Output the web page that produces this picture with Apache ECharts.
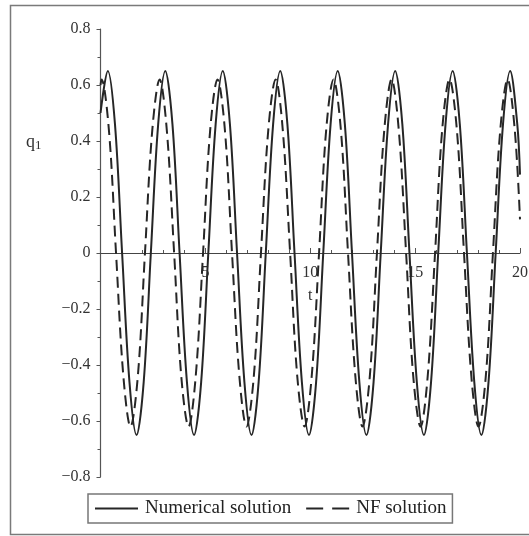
<!DOCTYPE html>
<html>
<head>
<meta charset="UTF-8">
<title>q1 - Numerical vs NF solution</title>
<script src="https://cdn.jsdelivr.net/npm/echarts@6/dist/echarts.min.js"></script>
<style>
    html, body { margin: 0; padding: 0; background: #fff; }
    #chart { width: 529px; height: 536px; }
</style>
</head>
<body>
<div id="chart"></div>
<script>
// values (t, q1)
var tNumerical = [0, 0.35, 0.69, 1.03, 1.38, 1.72, 2.06, 2.40, 2.75, 3.09, 3.43, 3.77, 4.12, 4.46, 4.80,
    5.14, 5.49, 5.83, 6.17, 6.51, 6.86, 7.20, 7.54, 7.88, 8.23, 8.57, 8.91, 9.25, 9.60, 9.94, 10.28,
    10.62, 10.97, 11.31, 11.65, 11.99, 12.34, 12.68, 13.02, 13.36, 13.71, 14.05, 14.39, 14.73, 15.08,
    15.42, 15.76, 16.10, 16.45, 16.79, 17.13, 17.47, 17.82, 18.16, 18.50, 18.84, 19.19, 19.53, 19.87, 20];
var qNumerical = [0.50, 0.65, 0.46, 0, -0.46, -0.65, -0.46, 0, 0.46, 0.65, 0.46, 0, -0.46, -0.65, -0.46,
    0, 0.46, 0.65, 0.46, 0, -0.46, -0.65, -0.46, 0, 0.46, 0.65, 0.46, 0, -0.46, -0.65, -0.46,
    0, 0.46, 0.65, 0.46, 0, -0.46, -0.65, -0.46, 0, 0.46, 0.65, 0.46, 0, -0.46,
    -0.65, -0.46, 0, 0.46, 0.65, 0.46, 0, -0.46, -0.65, -0.46, 0, 0.46, 0.65, 0.46, 0.28];

var tNF = [0, 0.05, 0.40, 0.74, 1.09, 1.43, 1.78, 2.12, 2.47, 2.82, 3.16, 3.51, 3.85, 4.20, 4.54,
    4.89, 5.23, 5.58, 5.93, 6.27, 6.62, 6.96, 7.31, 7.65, 8.00, 8.35, 8.69, 9.04, 9.38, 9.73, 10.07,
    10.42, 10.76, 11.11, 11.46, 11.80, 12.15, 12.49, 12.84, 13.18, 13.53, 13.88, 14.22, 14.57, 14.91,
    15.26, 15.60, 15.95, 16.29, 16.64, 16.99, 17.33, 17.68, 18.02, 18.37, 18.71, 19.06, 19.41, 19.75, 20];
var qNF = [0.60, 0.62, 0.44, 0, -0.44, -0.62, -0.44, 0, 0.44, 0.62, 0.44, 0, -0.44, -0.62, -0.44,
    0, 0.44, 0.62, 0.44, 0, -0.44, -0.62, -0.44, 0, 0.44, 0.62, 0.44, 0, -0.44, -0.62, -0.44,
    0, 0.44, 0.62, 0.44, 0, -0.44, -0.62, -0.44, 0, 0.44, 0.62, 0.44, 0, -0.44,
    -0.62, -0.44, 0, 0.44, 0.62, 0.44, 0, -0.44, -0.62, -0.44, 0, 0.44, 0.62, 0.44, 0.12];

var seriesNames = ['Numerical solution', 'NF solution'];
var xTicks = { min: 0, max: 20, interval: 5 };
var yTicks = { min: -0.8, max: 0.8, interval: 0.2 };

function pairs(xs, ys) {
    return xs.map(function (x, i) { return [x, ys[i]]; });
}

var font = '"Liberation Serif", "DejaVu Serif", serif';
var ink = '#262626';

// grid: top 29, bottom 477 -> the zero line sits half way
var gridTop = 29, gridBottom = 59, chartH = 536;
var zeroOffset = -((chartH - gridBottom) - (gridTop + (chartH - gridBottom - gridTop) / 2));

var myChart = echarts.init(document.getElementById('chart'));

myChart.setOption({
    animation: false,
    textStyle: { fontFamily: font },
    grid: { left: 100.5, right: 9, top: gridTop, bottom: gridBottom, containLabel: false, outerBoundsMode: 'none' },
    graphic: [
        {
            type: 'rect',
            shape: { x: 10.5, y: 5.5, width: 540, height: 529 },
            style: { fill: 'none', stroke: '#7a7a7a', lineWidth: 1.5 },
            silent: true
        },
        {
            type: 'text',
            left: 26, top: 133,
            style: {
                text: '{q|q}{s|1}',
                rich: {
                    q: { fontFamily: font, fontSize: 18, fill: '#333' },
                    s: { fontFamily: font, fontSize: 13, fill: '#333', verticalAlign: 'bottom', padding: [8, 0, 0, 0] }
                }
            }
        }
    ],
    legend: {
        left: 88, top: 494,
        itemWidth: 43, itemHeight: 10, itemGap: 14,
        padding: [5, 6, 5, 6],
        borderColor: '#777', borderWidth: 1.5,
        itemStyle: { opacity: 0 },
        textStyle: { fontFamily: font, fontSize: 19, color: '#222', padding: [0, 0, 0, 2] },
        data: [
            { name: seriesNames[0] },
            { name: seriesNames[1], lineStyle: { type: [17, 9] } }
        ]
    },
    xAxis: {
        type: 'value',
        min: xTicks.min, max: xTicks.max, interval: xTicks.interval,
        offset: zeroOffset,
        name: 't', nameLocation: 'middle', nameGap: 35,
        nameTextStyle: { fontFamily: font, fontSize: 16, color: '#333' },
        axisLine: { onZero: false, lineStyle: { color: '#444', width: 1.2 } },
        axisTick: { inside: true, length: 5, lineStyle: { color: '#555' } },
        minorTick: { show: true, splitNumber: 5, length: 3, lineStyle: { color: '#555' } },
        splitLine: { show: false },
        axisLabel: {
            showMinLabel: false, margin: 12,
            fontFamily: font, fontSize: 16, color: '#333'
        }
    },
    yAxis: {
        type: 'value',
        min: yTicks.min, max: yTicks.max, interval: yTicks.interval,
        axisLine: { show: true, lineStyle: { color: '#555', width: 1.2 } },
        axisTick: { show: true, length: 4, lineStyle: { color: '#555' } },
        minorTick: { show: true, splitNumber: 2, length: 3, lineStyle: { color: '#555' } },
        splitLine: { show: false },
        axisLabel: {
            margin: 10, fontFamily: font, fontSize: 16, color: '#333',
            formatter: function (v) {
                var r = Math.round(v * 10) / 10;
                if (r === 0) return '0';
                return (r < 0 ? '\u2212' : '') + Math.abs(r).toFixed(1);
            }
        }
    },
    series: [
        {
            name: seriesNames[0],
            type: 'line',
            smooth: 0.35,
            symbol: 'none',
            lineStyle: { color: ink, width: 2, type: 'solid' },
            itemStyle: { color: ink },
            data: pairs(tNumerical, qNumerical)
        },
        {
            name: seriesNames[1],
            type: 'line',
            smooth: 0.35,
            symbol: 'none',
            lineStyle: { color: ink, width: 2, type: [11, 6] },
            itemStyle: { color: ink },
            data: pairs(tNF, qNF)
        }
    ]
});
</script>
</body>
</html>
